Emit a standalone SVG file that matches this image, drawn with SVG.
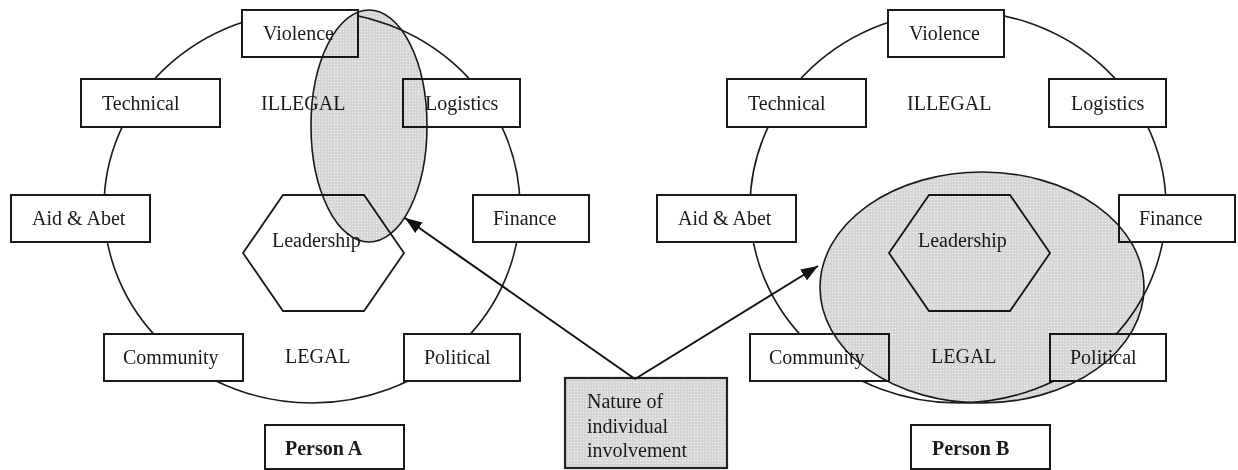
<svg xmlns="http://www.w3.org/2000/svg" width="1238" height="470" viewBox="0 0 1238 470">
<defs>
<pattern id="dots" width="3" height="3" patternUnits="userSpaceOnUse">
<rect width="3" height="3" fill="#d6d6d6"/>
<rect x="1" y="1" width="1" height="1" fill="#f4f4f4"/>
</pattern>
<marker id="arr" viewBox="0 0 10 10" refX="10" refY="5" markerWidth="8" markerHeight="8" markerUnits="userSpaceOnUse" orient="auto">
<path d="M0,0 L10,5 L0,10 z" fill="#111"/>
</marker>
<marker id="ah" viewBox="0 0 16 12" refX="16" refY="6" markerWidth="17" markerHeight="13" markerUnits="userSpaceOnUse" orient="auto">
<path d="M0,0 L16,6 L0,12 z" fill="#111"/>
</marker>
</defs>
<style>
.ring{fill:none;stroke:#1a1a1a;stroke-width:1.6}
.box{fill:#fff;stroke:#1a1a1a;stroke-width:2}
.hex{fill:#fff;stroke:#1a1a1a;stroke-width:1.8}
.t{font-family:"Liberation Serif","Times New Roman",serif;font-size:20px;fill:#1a1a1a}
.b{font-weight:bold}
.shade{fill:url(#dots);mix-blend-mode:multiply}
.shadeline{fill:none;stroke:#1a1a1a;stroke-width:1.6}
.nat{fill:url(#dots);stroke:#222;stroke-width:2.2}
.con{stroke:#111;stroke-width:2;fill:none}
</style>
<rect width="1238" height="470" fill="#fff"/>

<g id="personA">
<ellipse class="ring" cx="312" cy="207" rx="208" ry="196"/>
<g id="a-violence"><rect class="box" x="242" y="10" width="116" height="47"/><text class="t" x="263" y="40">Violence</text></g>
<g id="a-technical"><rect class="box" x="81" y="79" width="139" height="48"/><text class="t" x="102" y="110">Technical</text></g>
<g id="a-logistics"><rect class="box" x="403" y="79" width="117" height="48"/><text class="t" x="425" y="110">Logistics</text></g>
<g id="a-aid"><rect class="box" x="11" y="195" width="139" height="47"/><text class="t" x="32" y="225">Aid &amp; Abet</text></g>
<g id="a-finance"><rect class="box" x="473" y="195" width="116" height="47"/><text class="t" x="493" y="225">Finance</text></g>
<g id="a-community"><rect class="box" x="104" y="334" width="139" height="47"/><text class="t" x="123" y="364">Community</text></g>
<g id="a-political"><rect class="box" x="404" y="334" width="116" height="47"/><text class="t" x="424" y="364">Political</text></g>
<g id="a-leadership"><polygon class="hex" points="283,195 364,195 404,253 364,311 283,311 243,253"/><text class="t" x="272" y="247">Leadership</text></g>
<text class="t" x="261" y="110">ILLEGAL</text>
<text class="t" x="285" y="363">LEGAL</text>
<g id="a-label"><rect class="box" x="265" y="425" width="139" height="44"/><text class="t b" x="285" y="455">Person A</text></g>
<g id="a-involvement"><ellipse class="shade" cx="369" cy="126" rx="58" ry="116"/><ellipse class="shadeline" cx="369" cy="126" rx="58" ry="116"/></g>
</g>

<g id="personB">
<ellipse class="ring" cx="958" cy="207" rx="208" ry="196"/>
<g id="b-violence"><rect class="box" x="888" y="10" width="116" height="47"/><text class="t" x="909" y="40">Violence</text></g>
<g id="b-technical"><rect class="box" x="727" y="79" width="139" height="48"/><text class="t" x="748" y="110">Technical</text></g>
<g id="b-logistics"><rect class="box" x="1049" y="79" width="117" height="48"/><text class="t" x="1071" y="110">Logistics</text></g>
<g id="b-aid"><rect class="box" x="657" y="195" width="139" height="47"/><text class="t" x="678" y="225">Aid &amp; Abet</text></g>
<g id="b-finance"><rect class="box" x="1119" y="195" width="116" height="47"/><text class="t" x="1139" y="225">Finance</text></g>
<g id="b-community"><rect class="box" x="750" y="334" width="139" height="47"/><text class="t" x="769" y="364">Community</text></g>
<g id="b-political"><rect class="box" x="1050" y="334" width="116" height="47"/><text class="t" x="1070" y="364">Political</text></g>
<g id="b-leadership"><polygon class="hex" points="929,195 1010,195 1050,253 1010,311 929,311 889,253"/><text class="t" x="918" y="247">Leadership</text></g>
<text class="t" x="907" y="110">ILLEGAL</text>
<text class="t" x="931" y="363">LEGAL</text>
<g id="b-label"><rect class="box" x="911" y="425" width="139" height="44"/><text class="t b" x="932" y="455">Person B</text></g>
<g id="b-involvement"><ellipse class="shade" cx="982" cy="287.5" rx="162" ry="115.5"/><ellipse class="shadeline" cx="982" cy="287.5" rx="162" ry="115.5"/></g>
</g>

<g id="nature">
<rect class="nat" x="565" y="378" width="162" height="90"/>
<text class="t" x="587" y="408">Nature of</text>
<text class="t" x="587" y="433">individual</text>
<text class="t" x="587" y="457">involvement</text>
</g>

<g id="connectors">
<line class="con" x1="635" y1="379" x2="405" y2="218" marker-end="url(#ah)"/>
<line class="con" x1="635" y1="379" x2="818" y2="266" marker-end="url(#ah)"/>
</g>
</svg>
